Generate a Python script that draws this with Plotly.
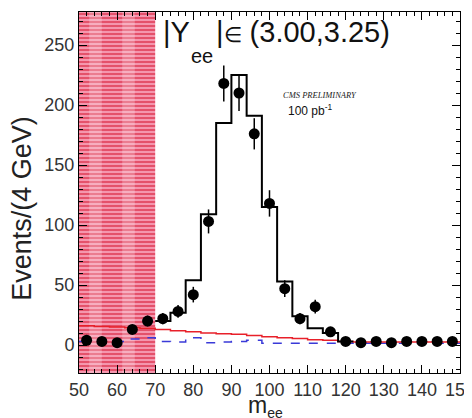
import plotly.graph_objects as go

# ---- data ----
bin_centers = [52, 56, 60, 64, 68, 72, 76, 80, 84, 88, 92, 96, 100, 104, 108,
               112, 116, 120, 124, 128, 132, 136, 140, 144, 148]
data_counts = [4, 3, 2, 13, 20, 22, 28, 42, 103, 218, 210, 176, 118, 47, 22,
               32, 11, 3, 2, 3, 2, 3, 3, 3, 3]
data_errors = [2, 2, 1.5, 3.6, 4.5, 4.7, 5.3, 6.5, 10, 15, 15, 13, 11, 7, 4.7,
               5.7, 3.3, 1.7, 1.4, 1.7, 1.4, 1.7, 1.7, 1.7, 1.7]

# signal MC histogram (bin left edges, values); last value repeated for step end
mc_edges = [70, 74, 78, 82, 86, 90, 94, 98, 102, 106, 110, 114, 118, 122]
mc_values = [20, 27, 54, 109, 185, 225, 191, 115, 53, 24, 14, 10, 3, 3]

# background (red solid) step line
bkg_edges = [50, 54, 58, 62, 66, 70, 74, 78, 82, 86, 90, 94, 98, 102, 106, 110,
             114, 118, 122, 126, 130, 134, 138, 142, 146, 150]
bkg_values = [16, 15.5, 15, 14.5, 14, 13, 12, 11, 10, 9.5, 9, 8, 7, 6, 5.5, 4.5,
              4, 3, 2.5, 2.5, 2.5, 2.5, 2.5, 2.5, 2.5, 2.5]

# second background (blue dashed) step line
bkg2_edges = [50, 54, 58, 62, 66, 70, 74, 78, 82, 86, 90, 94, 98, 102, 106, 110,
              114, 118, 122, 126, 130, 134, 138, 142, 146, 150]
bkg2_values = [3, 3, 3, 5, 6, 3, 2.5, 6, 2, 2.5, 3, 4, 1.5, 1.5, 1.5, 1.5,
               1.5, 1.5, 1.5, 1.5, 1.5, 1.5, 1.5, 1.5, 1.5, 1.5]

excluded_range = [50, 70]
x_range = [50, 150]
y_range = [-23.3, 277.5]
x_ticks = [50, 60, 70, 80, 90, 100, 110, 120, 130, 140, 150]
y_ticks = [0, 50, 100, 150, 200, 250]

fig = go.Figure()

hatch_x = [(excluded_range[0] + excluded_range[1]) / 2]
hatch_h = [y_range[1] - y_range[0]]
hatch_w = [excluded_range[1] - excluded_range[0]]

# hatched excluded region
fig.add_trace(go.Bar(
    x=hatch_x, y=hatch_h, base=[y_range[0]], width=hatch_w,
    marker=dict(color="#f48aa4",
                pattern=dict(shape="-", fgcolor="#d40c28", bgcolor="#f496ae",
                             size=4, solidity=0.5),
                line=dict(width=0)),
    hoverinfo="skip", showlegend=False))
# lighter vertical columns of the hatch
fig.add_trace(go.Bar(
    x=hatch_x, y=hatch_h, base=[y_range[0]], width=hatch_w,
    marker=dict(color="rgba(0,0,0,0)",
                pattern=dict(shape="|", fgcolor="rgba(255,235,240,0.55)",
                             bgcolor="rgba(0,0,0,0)", size=33, solidity=0.38),
                line=dict(width=0)),
    hoverinfo="skip", showlegend=False))

# blue dashed
fig.add_trace(go.Scatter(x=bkg2_edges, y=bkg2_values, mode="lines",
                         line=dict(color="#3a3ad8", width=1.5, dash="dash", shape="hv"),
                         showlegend=False))
# red solid
fig.add_trace(go.Scatter(x=bkg_edges, y=bkg_values, mode="lines",
                         line=dict(color="#e8202a", width=1.5, shape="hv"),
                         showlegend=False))
# MC histogram
fig.add_trace(go.Scatter(x=mc_edges, y=mc_values, mode="lines",
                         line=dict(color="black", width=2, shape="hv"),
                         showlegend=False))
# data points
fig.add_trace(go.Scatter(x=bin_centers, y=data_counts, mode="markers",
                         marker=dict(color="black", size=11),
                         error_y=dict(type="data", array=data_errors, color="black",
                                      thickness=1.5, width=0),
                         showlegend=False))

axis_common = dict(showgrid=False, zeroline=False, showline=True, linecolor="black",
                   linewidth=1, mirror="ticks", ticks="inside", tickcolor="black",
                   automargin=False, ticklabeloverflow="allow",
                   tickfont=dict(family="Liberation Sans, Arial", size=18, color="#333"))

fig.update_xaxes(range=x_range, tickvals=x_ticks, ticklen=8,
                 minor=dict(dtick=2, ticks="inside", ticklen=4, tickcolor="black"),
                 **axis_common)
fig.update_yaxes(range=y_range, tickvals=y_ticks, ticklen=8,
                 minor=dict(dtick=10, ticks="inside", ticklen=4, tickcolor="black"),
                 **axis_common)

# the page body adds an 8px offset; size and margins compensate for it
fig.update_layout(
    width=464, height=410,
    margin=dict(l=71, r=12, t=4, b=45, autoexpand=False),
    plot_bgcolor="white", paper_bgcolor="white",
    barmode="overlay",
    font=dict(family="Liberation Sans, Arial", color="#222"),
    annotations=[
        dict(text="|Y", xref="paper", yref="paper",
             x=0.216, y=0.9446, xanchor="left", yanchor="middle", showarrow=False,
             font=dict(size=29, color="#111")),
        dict(text="ee", xref="paper", yref="paper",
             x=0.289, y=0.879, xanchor="left", yanchor="middle", showarrow=False,
             font=dict(size=20, color="#111")),
        dict(text="|<span style='font-size:21px'>∈</span> (3.00,3.25)",
             xref="paper", yref="paper",
             x=0.354, y=0.9446, xanchor="left", yanchor="middle", showarrow=False,
             font=dict(size=29, color="#111")),
        dict(text="<i>CMS PRELIMINARY</i>", xref="paper", yref="paper",
             x=0.633, y=0.77, xanchor="center", yanchor="middle", showarrow=False,
             font=dict(family="Liberation Serif", size=8.5, color="#222")),
        dict(text="100 pb<sup>-1</sup>", xref="paper", yref="paper",
             x=0.605, y=0.728, xanchor="center", yanchor="middle", showarrow=False,
             font=dict(size=12, color="#111")),
        dict(text="Events/(4 GeV)", xref="paper", yref="paper",
             x=-0.15, y=0.457, xanchor="center", yanchor="middle", showarrow=False,
             textangle=-90, font=dict(size=27, color="#222")),
        dict(text="m<sub><span style='font-size:14px'>ee</span></sub>",
             xref="paper", yref="paper",
             x=0.49, y=-0.092, xanchor="center", yanchor="middle", showarrow=False,
             font=dict(size=23, color="#222")),
    ],
)

fig.write_html("out.html")
